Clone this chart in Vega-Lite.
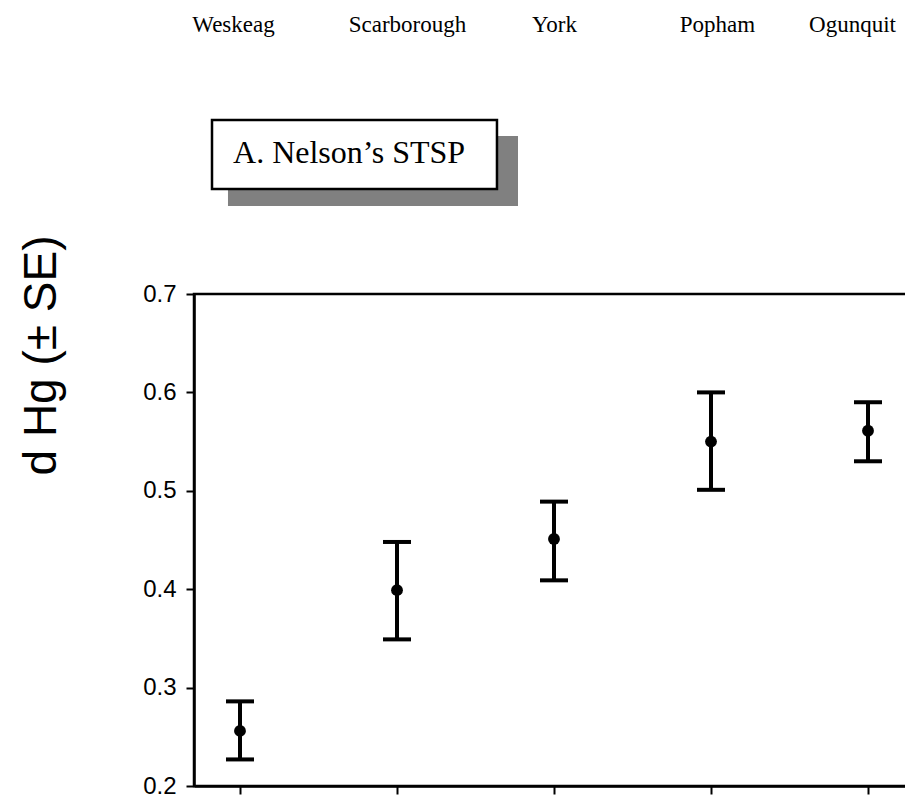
{
  "$schema": "https://vega.github.io/schema/vega-lite/v6.json",
  "autosize": "none",
  "padding": {"left": 194, "top": 294, "right": 0, "bottom": 10},
  "width": 720,
  "height": 492,
  "background": "white",
  "config": {
    "view": {"stroke": "black", "strokeWidth": 2.5},
    "axis": {"grid": false},
    "axisY": {
      "domainColor": "black", "domainWidth": 2.5,
      "tickColor": "black", "tickWidth": 2, "tickSize": 8,
      "labelFont": "Liberation Sans", "labelFontSize": 24,
      "labelColor": "black", "labelPadding": 10,
      "titleFont": "Liberation Sans", "titleFontSize": 46,
      "titleFontWeight": "normal", "titleColor": "black",
      "titleAngle": -90, "titleAlign": "center",
      "titleBaseline": "alphabetic",
      "titleX": -139, "titleY": 61
    }
  },
  "layer": [
    {
      "data": {
        "values": [
          {"site": "Weskeag", "mean": 0.256, "lower": 0.227, "upper": 0.286},
          {"site": "Scarborough", "mean": 0.399, "lower": 0.349, "upper": 0.448},
          {"site": "York", "mean": 0.451, "lower": 0.409, "upper": 0.489},
          {"site": "Popham", "mean": 0.55, "lower": 0.501, "upper": 0.6},
          {"site": "Ogunquit", "mean": 0.561, "lower": 0.53, "upper": 0.59}
        ]
      },
      "resolve": {"axis": {"x": "independent"}},
      "layer": [
        {
          "mark": {"type": "rule", "color": "black", "strokeWidth": 4},
          "encoding": {
            "x": {
              "field": "site", "type": "nominal", "sort": null,
              "scale": {"type": "point", "padding": 0.293},
              "axis": {
                "orient": "bottom", "title": null, "labels": false,
                "domainColor": "black", "domainWidth": 2.5,
                "tickColor": "black", "tickWidth": 2, "tickSize": 8
              }
            },
            "y": {
              "field": "lower", "type": "quantitative",
              "scale": {"domain": [0.2, 0.7], "nice": false, "zero": false},
              "axis": {"orient": "left", "title": "d Hg (± SE)", "values": [0.2, 0.3, 0.4, 0.5, 0.6, 0.7], "format": ".1f"}
            },
            "y2": {"field": "upper"}
          }
        },
        {
          "mark": {"type": "tick", "color": "black", "opacity": 1, "thickness": 4, "size": 28},
          "encoding": {
            "x": {"field": "site", "type": "nominal", "sort": null, "axis": null},
            "y": {"field": "lower", "type": "quantitative", "scale": {"domain": [0.2, 0.7]}, "axis": {"orient": "left", "title": "d Hg (± SE)", "values": [0.2, 0.3, 0.4, 0.5, 0.6, 0.7], "format": ".1f"}}
          }
        },
        {
          "mark": {"type": "tick", "color": "black", "opacity": 1, "thickness": 4, "size": 28},
          "encoding": {
            "x": {"field": "site", "type": "nominal", "sort": null, "axis": null},
            "y": {"field": "upper", "type": "quantitative", "scale": {"domain": [0.2, 0.7]}, "axis": {"orient": "left", "title": "d Hg (± SE)", "values": [0.2, 0.3, 0.4, 0.5, 0.6, 0.7], "format": ".1f"}}
          }
        },
        {
          "mark": {"type": "point", "filled": true, "color": "black", "opacity": 1, "size": 140},
          "encoding": {
            "x": {
              "field": "site", "type": "nominal", "sort": null,
              "axis": {
                "orient": "top", "title": null,
                "domain": false, "ticks": false, "tickSize": 0,
                "labelAngle": 0,
                "labelFont": "Liberation Serif", "labelFontSize": 23,
                "labelColor": "black", "labelBaseline": "alphabetic",
                "labelPadding": 263,
                "labelOffset": {
                  "condition": [
                    {"test": "datum.value === 'Weskeag'", "value": -7},
                    {"test": "datum.value === 'Scarborough'", "value": 10},
                    {"test": "datum.value === 'Popham'", "value": 6},
                    {"test": "datum.value === 'Ogunquit'", "value": -16}
                  ],
                  "value": 0
                }
              }
            },
            "y": {"field": "mean", "type": "quantitative", "scale": {"domain": [0.2, 0.7]}, "axis": {"orient": "left", "title": "d Hg (± SE)", "values": [0.2, 0.3, 0.4, 0.5, 0.6, 0.7], "format": ".1f"}}
          }
        }
      ]
    },
    {
      "data": {"values": [{"panel": "A. Nelson’s STSP"}]},
      "layer": [
        {
          "mark": {"type": "rect", "color": "#808080"},
          "encoding": {
            "x": {"datum": 0.0472, "type": "quantitative", "scale": {"domain": [0, 1], "nice": false, "zero": false}, "axis": null},
            "x2": {"datum": 0.45},
            "y": {"datum": 0.8606, "type": "quantitative", "scale": {"domain": [0.2, 0.7]}, "axis": {"orient": "left", "title": "d Hg (± SE)", "values": [0.2, 0.3, 0.4, 0.5, 0.6, 0.7], "format": ".1f"}},
            "y2": {"datum": 0.7894}
          }
        },
        {
          "mark": {"type": "rect", "fill": "white", "stroke": "black", "strokeWidth": 2.5},
          "encoding": {
            "x": {"datum": 0.025, "type": "quantitative", "scale": {"domain": [0, 1]}, "axis": null},
            "x2": {"datum": 0.4208},
            "y": {"datum": 0.8768, "type": "quantitative", "scale": {"domain": [0.2, 0.7]}, "axis": {"orient": "left", "title": "d Hg (± SE)", "values": [0.2, 0.3, 0.4, 0.5, 0.6, 0.7], "format": ".1f"}},
            "y2": {"datum": 0.8067}
          }
        },
        {
          "mark": {"type": "text", "font": "Liberation Serif", "fontSize": 32, "color": "black", "align": "left", "baseline": "alphabetic"},
          "encoding": {
            "x": {"datum": 0.0542, "type": "quantitative", "scale": {"domain": [0, 1]}, "axis": null},
            "y": {"datum": 0.8331, "type": "quantitative", "scale": {"domain": [0.2, 0.7]}, "axis": {"orient": "left", "title": "d Hg (± SE)", "values": [0.2, 0.3, 0.4, 0.5, 0.6, 0.7], "format": ".1f"}},
            "text": {"field": "panel"}
          }
        }
      ]
    }
  ],
  "resolve": {"scale": {"x": "independent"}}
}
